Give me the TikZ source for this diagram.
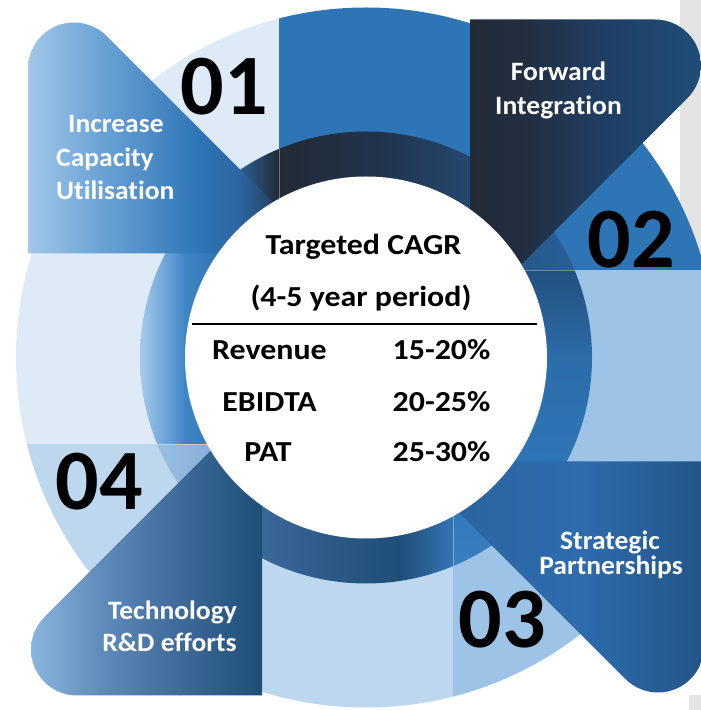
\documentclass[tikz,border=0pt]{standalone}
\usepackage{fontspec}
\setmainfont{Carlito}[Ligatures=NoCommon]
\newfontfamily\ctrfont{Carlito}[Ligatures=NoCommon, FakeStretch=1.1]
\newfontfamily\lblfont{Carlito}[Ligatures=NoCommon, FakeStretch=1.04]
\definecolor{bggray}{HTML}{E4E4E4}
\definecolor{outA}{HTML}{DEEBF7}
\definecolor{outB}{HTML}{2E75B6}
\definecolor{outC}{HTML}{9DC3E6}
\definecolor{outD}{HTML}{BDD7EE}
\definecolor{navy}{HTML}{222A35}
\definecolor{dk}{HTML}{1F4E79}
\definecolor{ra1}{HTML}{A9CCEB}
\definecolor{ra2}{HTML}{3F86C7}
\definecolor{ra3}{HTML}{2E6EAD}
\definecolor{rb2}{HTML}{21334D}
\definecolor{rb3}{HTML}{25486E}
\definecolor{rb4}{HTML}{265A8C}
\definecolor{rb5}{HTML}{2A62A0}
\definecolor{rc1}{HTML}{23507F}
\definecolor{rc2}{HTML}{2C6DAA}
\definecolor{rc4}{HTML}{3A80C2}
\definecolor{rd2}{HTML}{86AFD8}
\definecolor{rd3}{HTML}{3A6899}
\definecolor{rd4}{HTML}{2D5987}
\definecolor{rd6}{HTML}{3476B6}
\definecolor{ta1}{HTML}{A2C7E9}
\definecolor{ta2}{HTML}{6BA3D6}
\definecolor{ta4}{HTML}{2C66A2}
\definecolor{ta5}{HTML}{243A58}
\definecolor{tb1}{HTML}{232A36}
\definecolor{tb2}{HTML}{222F42}
\definecolor{tb3}{HTML}{203E63}
\definecolor{tc1}{HTML}{2A5E98}
\definecolor{tc2}{HTML}{2C65A3}
\definecolor{tc3}{HTML}{2E6CAE}
\definecolor{tc4}{HTML}{235488}
\definecolor{td1}{HTML}{8DB8E0}
\definecolor{td2}{HTML}{5F8CBA}
\definecolor{td3}{HTML}{3D6A98}
\tikzset{
  lbl/.style={font=\lblfont\bfseries\fontsize{26.5}{30}\selectfont, text=white, inner sep=0pt},
  num/.style={font=\bfseries\fontsize{86}{90}\selectfont, text=black, inner sep=0pt},
  ctr/.style={font=\ctrfont\bfseries\fontsize{29}{34}\selectfont, text=black, inner sep=0pt},
  cutline/.style={white, opacity=0.35, line width=1pt},
}
\begin{document}
\begin{tikzpicture}[x=1pt,y=1pt]
\useasboundingbox (0,0) rectangle (701,710);
\fill[white] (0,0) rectangle (701,710);
\fill[bggray] (680,70) rectangle (701,710);
\fill[bggray] (689,0) rectangle (701,15);

\begin{scope}[shift={(366,352.5)}]
  % ---------- outer ring pieces ----------
  \begin{scope}\clip (-400,-87) rectangle (-87,400); \fill[outA] (0,0) circle[radius=350]; \end{scope}
  \begin{scope}\clip (-87,87) rectangle (400,400);   \fill[outB] (0,0) circle[radius=350]; \end{scope}
  \begin{scope}\clip (87,87) rectangle (400,-400);   \fill[outC] (0,0) circle[radius=350]; \end{scope}
  \begin{scope}\clip (-400,-400) rectangle (87,-87); \fill[outD] (0,0) circle[radius=350]; \end{scope}

  % ---------- middle ring pieces ----------
  \begin{scope}
    \clip (-400,-87) rectangle (-87,400);
    \clip (0,0) circle[radius=226];
    \shade[left color=ra1, right color=ra2] (-227,-100) rectangle (-181,300);
    \shade[left color=ra2, right color=ra3] (-181.5,-100) rectangle (-136,300);
    \shade[left color=ra3, right color=navy] (-136.5,-100) rectangle (-86,300);
  \end{scope}
  \begin{scope}
    \clip (-87,87) rectangle (400,400);
    \clip (0,0) circle[radius=226];
    \shade[left color=navy, right color=rb2] (-88,80) rectangle (14,300);
    \shade[left color=rb2, right color=rb3] (13.5,80) rectangle (103,300);
    \shade[left color=rb3, right color=rb4] (102.5,80) rectangle (164,300);
    \shade[left color=rb4, right color=rb5] (163.5,80) rectangle (230,300);
  \end{scope}
  \begin{scope}
    \clip (87,87) rectangle (400,-400);
    \clip (0,0) circle[radius=226];
    \shade[top color=rc1, bottom color=rc2] (80,88) rectangle (300,-2.5);
    \shade[top color=rc2, bottom color=outB] (80,-2) rectangle (300,-102.5);
    \shade[top color=outB, bottom color=rc4] (80,-102) rectangle (300,-230);
  \end{scope}
  \begin{scope}
    \clip (-400,-400) rectangle (87,-87);
    \clip (0,0) circle[radius=226];
    \shade[left color=outC, right color=rd2] (-227,-300) rectangle (-151,-80);
    \shade[left color=rd2, right color=rd3] (-151.5,-300) rectangle (-104,-80);
    \shade[left color=rd3, right color=rd4] (-104.5,-300) rectangle (-36,-80);
    \shade[left color=rd4, right color=dk] (-36.5,-300) rectangle (34,-80);
    \shade[left color=dk, right color=rd6] (33.5,-300) rectangle (88,-80);
  \end{scope}
  \draw[cutline] (-87,158.7) -- (-87,208.6);
  \draw[cutline] (158.7,87) -- (208.6,87);
  \draw[cutline] (87,-158.7) -- (87,-208.6);
  \draw[cutline] (-158.7,-87) -- (-208.6,-87);

  % ---------- tabs ----------
  \begin{scope}
    \clip (-338,104) -- (-338,289) arc[start angle=180,end angle=45,radius=46] -- (-42,104) -- cycle;
    \shade[left color=ta1, right color=ta2] (-339,100) rectangle (-266,340);
    \shade[left color=ta2, right color=outB] (-266.5,100) rectangle (-166,340);
    \shade[left color=outB, right color=ta4] (-166.5,100) rectangle (-126,340);
    \shade[left color=ta4, right color=ta5] (-126.5,100) rectangle (-86,340);
    \shade[left color=ta5, right color=navy] (-86.5,100) rectangle (-40,340);
  \end{scope}
  \begin{scope}
    \clip (104,338) -- (289,338) arc[start angle=90,end angle=-45,radius=46] -- (104,42) -- cycle;
    \shade[left color=tb1, right color=tb2] (103,40) rectangle (164,340);
    \shade[left color=tb2, right color=tb3] (163.5,40) rectangle (234,340);
    \shade[left color=tb3, right color=dk] (233.5,40) rectangle (340,340);
  \end{scope}
  \begin{scope}
    \clip (338,-104) -- (338,-289) arc[start angle=0,end angle=-135,radius=46] -- (42,-104) -- cycle;
    \shade[left color=tc1, right color=tc2] (41,-340) rectangle (114,-100);
    \shade[left color=tc2, right color=tc3] (113.5,-340) rectangle (214,-100);
    \shade[left color=tc3, right color=tc4] (213.5,-340) rectangle (340,-100);
  \end{scope}
  \begin{scope}
    \clip (-104,-338) -- (-289,-338) arc[start angle=-90,end angle=-225,radius=46] -- (-104,-42) -- cycle;
    \shade[left color=td1, right color=td2] (-340,-340) rectangle (-266,-40);
    \shade[left color=td2, right color=td3] (-266.5,-340) rectangle (-186,-40);
    \shade[left color=td3, right color=dk] (-186.5,-340) rectangle (-103,-40);
  \end{scope}

  % ---------- centre ----------
  \fill[white] (0,0) circle[radius=181];
\end{scope}

% ---------- numbers ----------
\node[num, anchor=base] (n01) at (224,595) {01};
\node[num, anchor=base] (n02) at (631,442) {02};
\node[num, anchor=base] (n03) at (502,62) {03};
\node[num, anchor=base] (n04) at (99,200) {04};

% ---------- tab labels ----------
\node[lbl, anchor=base west] (l1a) at (68,577) {Increase};
\node[lbl, anchor=base west] (l1b) at (56,543.3) {Capacity};
\node[lbl, anchor=base west] (l1c) at (56,510) {Utilisation};
\node[lbl, anchor=base] (l2a) at (558.5,629.5) {Forward};
\node[lbl, anchor=base] (l2b) at (558.5,595.5) {Integration};
\node[lbl, anchor=base] (l3a) at (610,160.7) {Strategic};
\node[lbl, anchor=base] (l3b) at (611,135) {Partnerships};
\node[lbl, anchor=base] (l4a) at (172.5,90) {Technology};
\node[lbl, anchor=base] (l4b) at (169.5,58.3) {R\&D efforts};

% ---------- centre table ----------
\node[ctr, anchor=base] (hd1) at (363.5,455) {Targeted CAGR};
\node[ctr, anchor=base] (hd2) at (361,403.3) {(4-5 year period)};
\coordinate (ruleL) at (192,386);
\coordinate (ruleR) at (537,386);
\draw[black, line width=1.2pt] (ruleL) -- (ruleR);
\node[ctr, anchor=base] (r1) at (269.5,350) {Revenue};
\node[ctr, anchor=base] (v1) at (441.5,350) {15-20\%};
\node[ctr, anchor=base] (r2) at (269.5,298.3) {EBIDTA};
\node[ctr, anchor=base] (v2) at (441.5,298.3) {20-25\%};
\node[ctr, anchor=base] (r3) at (268,248.3) {PAT};
\node[ctr, anchor=base] (v3) at (441.5,248.3) {25-30\%};
\end{tikzpicture}
\end{document}
